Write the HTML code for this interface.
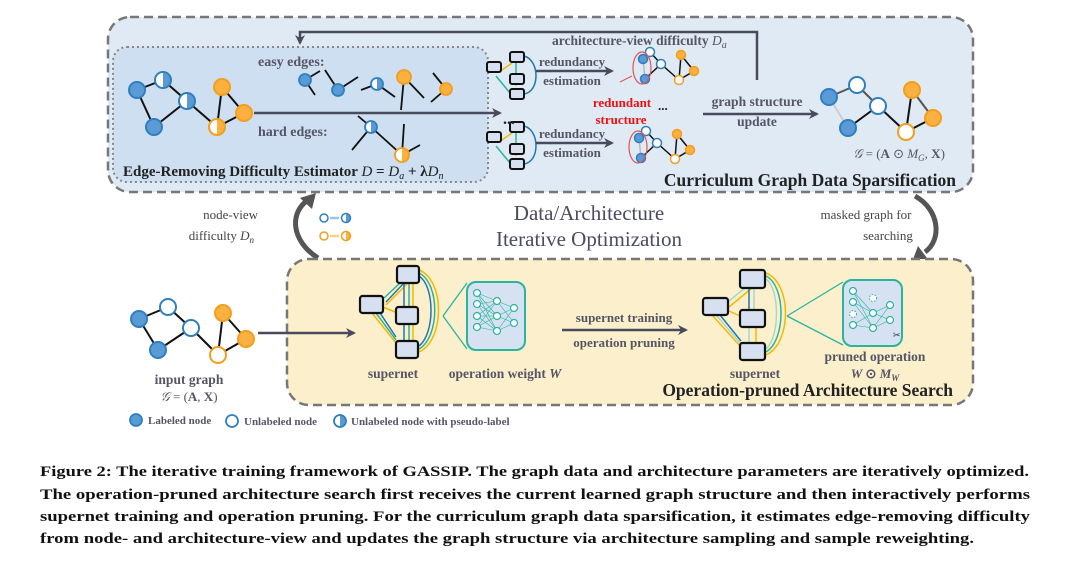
<!DOCTYPE html>
<html><head><meta charset="utf-8"><style>
html,body{margin:0;padding:0;background:#fff;}
svg{display:block;}
.s{font-family:"Liberation Serif",serif;}
</style></head><body>
<svg width="1080" height="564" viewBox="0 0 1080 564" xmlns="http://www.w3.org/2000/svg" class="s">
<defs>
<marker id="ah" markerWidth="10" markerHeight="10" refX="8" refY="5" orient="auto" markerUnits="userSpaceOnUse"><path d="M0,0 L10,5 L0,10 L3,5 Z" fill="#4a4a5e"/></marker>
<linearGradient id="pb" x1="0" x2="1"><stop offset="0.5" stop-color="#fff"/><stop offset="0.5" stop-color="#5b9bd5"/></linearGradient>
<linearGradient id="po" x1="0" x2="1"><stop offset="0.5" stop-color="#fff"/><stop offset="0.5" stop-color="#fbb040"/></linearGradient>
</defs>
<rect x="108" y="17" width="865" height="175" rx="22" fill="#e0eaf4" stroke="#777" stroke-width="2.5" stroke-dasharray="9,5"/>
<rect x="113" y="47" width="375" height="135" rx="14" fill="#cddff0" stroke="#888" stroke-width="2" stroke-dasharray="2,3"/>
<polyline points="757,80 757,32 300,32 300,43" fill="none" stroke="#4a4a5e" stroke-width="2.5" marker-end="url(#ah)"/>
<g stroke="#111" stroke-width="2">
<line x1="137" y1="90" x2="163" y2="80"/><line x1="137" y1="90" x2="154" y2="127"/><line x1="163" y1="80" x2="187" y2="101"/><line x1="154" y1="127" x2="187" y2="101"/><line x1="187" y1="101" x2="217" y2="127"/><line x1="217" y1="127" x2="222" y2="87"/><line x1="222" y1="87" x2="244" y2="113"/><line x1="217" y1="127" x2="244" y2="113"/>
</g>
<g stroke-width="2">
<circle cx="137" cy="90" r="8" fill="#5b9bd5" stroke="#2f7fc0"/><circle cx="163" cy="80" r="8" fill="url(#pb)" stroke="#2f7fc0"/><circle cx="187" cy="101" r="8" fill="url(#pb)" stroke="#2f7fc0"/><circle cx="154" cy="127" r="8" fill="#5b9bd5" stroke="#2f7fc0"/><circle cx="222" cy="87" r="8" fill="#fbb040" stroke="#f29e1e"/><circle cx="244" cy="113" r="8" fill="#fbb040" stroke="#f29e1e"/><circle cx="217" cy="127" r="8" fill="url(#po)" stroke="#f29e1e"/>
</g>
<line x1="254" y1="113" x2="500" y2="113" stroke="#4a4a5e" stroke-width="2.5" marker-end="url(#ah)"/>
<text x="258" y="66" font-size="14" font-weight="bold" fill="#555566">easy edges:</text>
<text x="258" y="136" font-size="14" font-weight="bold" fill="#555566">hard edges:</text>
<g stroke="#111" stroke-width="1.8">
<line x1="305" y1="80" x2="320" y2="71"/><line x1="305" y1="80" x2="315" y2="95"/>
<line x1="338" y1="90" x2="325" y2="70"/><line x1="338" y1="90" x2="358" y2="77"/>
<line x1="377" y1="84" x2="361" y2="90"/><line x1="377" y1="84" x2="395" y2="97"/>
<line x1="404" y1="77" x2="401" y2="110"/><line x1="404" y1="77" x2="424" y2="98"/>
<line x1="446" y1="89" x2="433" y2="73"/><line x1="446" y1="89" x2="431" y2="102"/>
<line x1="371" y1="127" x2="358" y2="116"/><line x1="371" y1="127" x2="352" y2="150"/><line x1="371" y1="127" x2="402" y2="155"/>
<line x1="402" y1="155" x2="404" y2="124"/><line x1="402" y1="155" x2="420" y2="145"/>
</g>
<g stroke-width="1.8">
<circle cx="305" cy="80" r="6" fill="#5b9bd5" stroke="#2f7fc0"/><circle cx="338" cy="90" r="6" fill="#5b9bd5" stroke="#2f7fc0"/><circle cx="377" cy="84" r="6" fill="url(#pb)" stroke="#2f7fc0"/><circle cx="404" cy="77" r="7" fill="#fbb040" stroke="#f29e1e"/><circle cx="446" cy="89" r="6" fill="#fbb040" stroke="#f29e1e"/>
<circle cx="371" cy="127" r="6" fill="url(#pb)" stroke="#2f7fc0"/><circle cx="402" cy="155" r="7" fill="url(#po)" stroke="#f29e1e"/>
</g>
<text x="123" y="176" font-size="15" font-weight="bold" fill="#222">Edge-Removing Difficulty Estimator <tspan font-style="italic" font-weight="normal">D</tspan> = <tspan font-style="italic" font-weight="normal">D<tspan font-size="10" dy="3">a</tspan></tspan><tspan dy="-3"> + λ</tspan><tspan font-style="italic" font-weight="normal">D<tspan font-size="10" dy="3">n</tspan></tspan></text>
<g id="sn1">
<g stroke="#1f77b4" stroke-width="1.5" fill="none"><path d="M524,56 C540,60 540,92 524,94"/></g>
<g stroke="#f5b800" stroke-width="1.5"><line x1="512" y1="63" x2="502" y2="70"/><line x1="516" y1="80" x2="516" y2="86"/></g>
<g stroke="#2ab3a0" stroke-width="1.5"><line x1="496" y1="76" x2="510" y2="93"/><line x1="516" y1="63" x2="516" y2="74"/></g>
<g fill="#d7e0f0" stroke="#111" stroke-width="2">
<rect x="510" y="52" width="14" height="10" rx="2"/><rect x="487" y="62" width="14" height="10" rx="2"/><rect x="510" y="74" width="14" height="10" rx="2"/><rect x="510" y="89" width="14" height="10" rx="2"/>
</g></g>
<use href="#sn1" transform="translate(0,70)"/>
<text x="503" y="124" font-size="16" font-weight="bold" fill="#222">...</text>
<text x="572" y="66" font-size="13" font-weight="bold" fill="#555566" text-anchor="middle">redundancy</text>
<line x1="536" y1="71" x2="612" y2="71" stroke="#4a4a5e" stroke-width="2.5" marker-end="url(#ah)"/>
<text x="572" y="85" font-size="13" font-weight="bold" fill="#555566" text-anchor="middle">estimation</text>
<text x="572" y="138" font-size="13" font-weight="bold" fill="#555566" text-anchor="middle">redundancy</text>
<line x1="536" y1="143" x2="612" y2="143" stroke="#4a4a5e" stroke-width="2.5" marker-end="url(#ah)"/>
<text x="572" y="157" font-size="13" font-weight="bold" fill="#555566" text-anchor="middle">estimation</text>
<text x="552" y="45" font-size="13.5" font-weight="bold" fill="#555566">architecture-view difficulty <tspan font-style="italic" font-weight="normal">D<tspan font-size="10" dy="3">a</tspan></tspan></text>
<text x="622" y="107" font-size="13" font-weight="bold" fill="#ee1111" text-anchor="middle">redundant</text>
<text x="621" y="124" font-size="13" font-weight="bold" fill="#ee1111" text-anchor="middle">structure</text>
<text x="658" y="110" font-size="13" font-weight="bold" fill="#222">...</text>
<g id="g1">
<g stroke="#111" stroke-width="1.5"><line x1="643" y1="59" x2="650" y2="52"/><line x1="650" y1="52" x2="661" y2="64"/><line x1="661" y1="64" x2="645" y2="79"/><line x1="661" y1="64" x2="679" y2="80"/><line x1="679" y1="80" x2="681" y2="55"/><line x1="681" y1="55" x2="694" y2="71"/><line x1="679" y1="80" x2="694" y2="71"/></g>
<line x1="643" y1="59" x2="645" y2="79" stroke="#bbb" stroke-width="1.5"/>
<g stroke-width="1.5"><circle cx="643" cy="59" r="4.5" fill="#5b9bd5" stroke="#2f7fc0"/><circle cx="650" cy="52" r="4.5" fill="#fff" stroke="#2f7fc0"/><circle cx="661" cy="64" r="4.5" fill="#fff" stroke="#2f7fc0"/><circle cx="645" cy="79" r="4.5" fill="#5b9bd5" stroke="#2f7fc0"/><circle cx="681" cy="55" r="4.5" fill="#fbb040" stroke="#f29e1e"/><circle cx="694" cy="71" r="4.5" fill="#fbb040" stroke="#f29e1e"/><circle cx="679" cy="80" r="4.5" fill="#fff" stroke="#f29e1e"/></g>
<ellipse cx="642" cy="68" rx="9" ry="16" fill="none" stroke="#e05555" stroke-width="1.2"/>
</g>
<use href="#g1" transform="translate(-4,79)"/>
<path d="M620,82 C624,80 628,78 632,76" stroke="#e05555" stroke-width="1" fill="none"/>
<text x="757" y="106" font-size="13.5" font-weight="bold" fill="#555566" text-anchor="middle">graph structure</text>
<line x1="703" y1="114" x2="817" y2="114" stroke="#4a4a5e" stroke-width="2.5" marker-end="url(#ah)"/>
<text x="757" y="126" font-size="13.5" font-weight="bold" fill="#555566" text-anchor="middle">update</text>
<g stroke-width="2">
<line x1="829" y1="97" x2="857" y2="85" stroke="#555"/><line x1="829" y1="97" x2="848" y2="128" stroke="#ccc"/><line x1="857" y1="85" x2="878" y2="106" stroke="#555"/><line x1="848" y1="128" x2="878" y2="106" stroke="#111"/><line x1="878" y1="106" x2="906" y2="132" stroke="#111"/><line x1="906" y1="132" x2="912" y2="90" stroke="#111"/><line x1="912" y1="90" x2="933" y2="118" stroke="#555"/><line x1="906" y1="132" x2="933" y2="118" stroke="#111"/>
<circle cx="829" cy="97" r="8" fill="#5b9bd5" stroke="#2f7fc0"/><circle cx="857" cy="85" r="8" fill="#fff" stroke="#2f7fc0"/><circle cx="878" cy="106" r="8" fill="#fff" stroke="#2f7fc0"/><circle cx="848" cy="128" r="8" fill="#5b9bd5" stroke="#2f7fc0"/><circle cx="912" cy="90" r="8" fill="#fbb040" stroke="#f29e1e"/><circle cx="933" cy="118" r="8" fill="#fbb040" stroke="#f29e1e"/><circle cx="906" cy="132" r="8" fill="#fff" stroke="#f29e1e"/>
</g>
<text x="899" y="158" font-size="13" fill="#555566" text-anchor="middle"><tspan font-style="italic">𝒢</tspan> = (<tspan font-weight="bold">A</tspan> ⊙ <tspan font-style="italic">M<tspan font-size="9" dy="3">G</tspan></tspan><tspan dy="-3">, </tspan><tspan font-weight="bold">X</tspan>)</text>
<text x="956" y="186" font-size="17.5" font-weight="bold" fill="#222" text-anchor="end">Curriculum Graph Data Sparsification</text>
<text x="589" y="220" font-size="21" fill="#4a4a60" text-anchor="middle">Data/Architecture</text>
<text x="589" y="246" font-size="21" fill="#4a4a60" text-anchor="middle">Iterative Optimization</text>
<text x="258" y="219" font-size="13" fill="#444" text-anchor="end">node-view</text>
<text x="254" y="240" font-size="13" fill="#444" text-anchor="end">difficulty <tspan font-style="italic">D<tspan font-size="9" dy="3">n</tspan></tspan></text>
<path d="M318,258 C290,240 290,212 308,200" fill="none" stroke="#555" stroke-width="5"/>
<path d="M300,198 L316,193 L312,209 Z" fill="#555"/>
<g stroke-width="1.5"><circle cx="324" cy="218" r="4" fill="#fff" stroke="#2f7fc0"/><circle cx="346" cy="218" r="4.5" fill="url(#pb)" stroke="#2f7fc0"/><line x1="330" y1="218" x2="339" y2="218" stroke="#9cc4e8" stroke-width="2.5"/>
<circle cx="324" cy="236" r="4" fill="#fff" stroke="#f29e1e"/><circle cx="346" cy="236" r="4.5" fill="url(#po)" stroke="#f29e1e"/><line x1="330" y1="236" x2="339" y2="236" stroke="#fbd08a" stroke-width="2.5"/></g>
<text x="866" y="219" font-size="13" fill="#444" text-anchor="middle">masked graph for</text>
<text x="888" y="240" font-size="13" fill="#444" text-anchor="middle">searching</text>
<path d="M915,196 C940,210 942,240 925,252" fill="none" stroke="#555" stroke-width="5"/>
<path d="M918,246 L930,262 L912,262 Z" fill="#555"/>
<rect x="287" y="259" width="686" height="146" rx="22" fill="#fcf0cc" stroke="#777" stroke-width="2.5" stroke-dasharray="9,5"/>
<g stroke-width="2">
<g stroke="#111"><line x1="139" y1="319" x2="168" y2="307"/><line x1="139" y1="319" x2="158" y2="350"/><line x1="168" y1="307" x2="191" y2="328"/><line x1="158" y1="350" x2="191" y2="328"/><line x1="191" y1="328" x2="218" y2="355"/><line x1="218" y1="355" x2="223" y2="313"/><line x1="223" y1="313" x2="246" y2="339"/><line x1="218" y1="355" x2="246" y2="339"/></g>
<circle cx="139" cy="319" r="8" fill="#5b9bd5" stroke="#2f7fc0"/><circle cx="168" cy="307" r="8" fill="#fff" stroke="#2f7fc0"/><circle cx="191" cy="328" r="8" fill="#fff" stroke="#2f7fc0"/><circle cx="158" cy="350" r="8" fill="#5b9bd5" stroke="#2f7fc0"/><circle cx="223" cy="313" r="8" fill="#fbb040" stroke="#f29e1e"/><circle cx="246" cy="339" r="8" fill="#fbb040" stroke="#f29e1e"/><circle cx="218" cy="355" r="8" fill="#fff" stroke="#f29e1e"/>
</g>
<text x="189" y="384" font-size="13.5" font-weight="bold" fill="#555566" text-anchor="middle">input graph</text>
<text x="189" y="401" font-size="13" fill="#555566" text-anchor="middle"><tspan font-style="italic">𝒢</tspan> = (<tspan font-weight="bold">A</tspan>, <tspan font-weight="bold">X</tspan>)</text>
<line x1="258" y1="333" x2="354" y2="333" stroke="#4a4a5e" stroke-width="2.5" marker-end="url(#ah)"/>
<g stroke-width="1.8"><circle cx="136" cy="420" r="6" fill="#5b9bd5" stroke="#2f7fc0"/><circle cx="232" cy="421" r="6" fill="#fff" stroke="#2f7fc0"/><circle cx="340" cy="421" r="6" fill="url(#pb)" stroke="#2f7fc0"/></g>
<text x="148" y="424" font-size="11" font-weight="bold" fill="#555566">Labeled node</text>
<text x="244" y="425" font-size="11" font-weight="bold" fill="#555566">Unlabeled node</text>
<text x="351" y="425" font-size="11" font-weight="bold" fill="#555566">Unlabeled node with pseudo-label</text>
<g fill="none" stroke-width="1.5">
<path d="M419,270 C445,280 445,340 419,352" stroke="#f5b800"/><path d="M419,273 C440,283 440,337 419,349" stroke="#2ab3a0"/><path d="M419,276 C435,286 435,334 419,346" stroke="#1f77b4"/>
<path d="M400,283 L384,298" stroke="#2ab3a0"/><path d="M404,283 L386,302" stroke="#1f77b4"/><path d="M408,283 L386,305" stroke="#f5b800"/>
<path d="M404,283 L404,307" stroke="#1f77b4"/><path d="M409,283 L409,307" stroke="#2ab3a0"/><path d="M413,283 L413,307" stroke="#f5b800"/>
<path d="M404,323 L404,340" stroke="#1f77b4"/><path d="M409,323 L409,340" stroke="#2ab3a0"/><path d="M413,323 L413,340" stroke="#f5b800"/>
<path d="M372,313 L396,343" stroke="#f5b800"/><path d="M376,313 L396,340" stroke="#2ab3a0"/><path d="M380,313 L396,337" stroke="#1f77b4"/>
<path d="M383,307 L395,312" stroke="#f5b800"/>
</g>
<g fill="#d7e0f0" stroke="#111" stroke-width="2.2">
<rect x="397" y="266" width="22" height="17" rx="2.5"/><rect x="360" y="296" width="23" height="17" rx="2.5"/><rect x="396" y="307" width="22" height="17" rx="2.5"/><rect x="396" y="341" width="22" height="17" rx="2.5"/>
</g>
<line x1="443" y1="316" x2="467" y2="283" stroke="#2ab3a0" stroke-width="1.3"/><line x1="443" y1="316" x2="467" y2="349" stroke="#2ab3a0" stroke-width="1.3"/>
<rect x="467" y="282" width="58" height="68" rx="9" fill="#d6e2f2" stroke="#2ab3a0" stroke-width="2"/>
<g stroke="#2ab3a0" stroke-width="0.6">
<path d="M477,293 L497,301 M477,293 L497,316 M477,293 L497,331 M477,304 L497,301 M477,304 L497,316 M477,304 L497,331 M477,316 L497,301 M477,316 L497,316 M477,316 L497,331 M477,327 L497,301 M477,327 L497,316 M477,327 L497,331 M497,301 L514,308 M497,316 L514,308 M497,331 L514,308 M497,301 L514,323 M497,316 L514,323 M497,331 L514,323"/>
</g>
<g fill="#fff" stroke="#2ab3a0" stroke-width="1.2"><circle cx="477" cy="293" r="3.5"/><circle cx="477" cy="304" r="3.5"/><circle cx="477" cy="316" r="3.5"/><circle cx="477" cy="327" r="3.5"/><circle cx="497" cy="301" r="3.5"/><circle cx="497" cy="316" r="3.5"/><circle cx="497" cy="331" r="3.5"/><circle cx="514" cy="308" r="3.5"/><circle cx="514" cy="323" r="3.5"/></g>
<text x="393" y="378" font-size="13.5" font-weight="bold" fill="#555566" text-anchor="middle">supernet</text>
<text x="505" y="378" font-size="13.5" font-weight="bold" fill="#555566" text-anchor="middle">operation weight <tspan font-style="italic">W</tspan></text>
<text x="624" y="322" font-size="13" font-weight="bold" fill="#555566" text-anchor="middle">supernet training</text>
<line x1="562" y1="330" x2="686" y2="330" stroke="#4a4a5e" stroke-width="2.5" marker-end="url(#ah)"/>
<text x="624" y="347" font-size="13" font-weight="bold" fill="#555566" text-anchor="middle">operation pruning</text>
<g fill="none" stroke-width="1.5">
<path d="M766,273 C792,283 792,343 766,355" stroke="#f5b800"/><path d="M766,276 C786,286 786,340 766,352" stroke="#2ab3a0"/><path d="M766,279 C780,289 780,337 766,349" stroke="#a6d8cf"/>
<path d="M745,288 L729,301" stroke="#a6d8cf"/><path d="M752,288 L729,307" stroke="#f5b800"/>
<path d="M749,288 L749,310" stroke="#1f77b4"/><path d="M754,288 L754,310" stroke="#a6d8cf"/>
<path d="M749,327 L749,343" stroke="#a6d8cf"/><path d="M756,327 L756,343" stroke="#f5b800"/>
<path d="M712,315 L741,347" stroke="#f5b800"/><path d="M716,315 L741,344" stroke="#a6d8cf"/><path d="M720,315 L741,341" stroke="#1f77b4"/>
<path d="M729,311 L740,316" stroke="#f5b800"/>
</g>
<g fill="#d7e0f0" stroke="#111" stroke-width="2.2">
<rect x="740" y="270" width="25" height="18" rx="2.5"/><rect x="703" y="298" width="25" height="17" rx="2.5"/><rect x="740" y="310" width="25" height="17" rx="2.5"/><rect x="740" y="343" width="25" height="17" rx="2.5"/>
</g>
<line x1="787" y1="316" x2="843" y2="282" stroke="#2ab3a0" stroke-width="1.3"/><line x1="787" y1="316" x2="843" y2="345" stroke="#2ab3a0" stroke-width="1.3"/>
<rect x="843" y="280" width="59" height="66" rx="9" fill="#d6e2f2" stroke="#2ab3a0" stroke-width="2"/>
<g stroke="#2ab3a0" stroke-width="0.6">
<path d="M853,291 L873,313 M853,291 L873,328 M853,302 L873,313 M853,302 L873,328 M853,325 L873,313 M853,325 L873,328 M873,313 L890,305 M873,328 L890,305 M873,313 L890,320 M873,328 L890,320"/>
</g>
<g fill="#fff" stroke="#2ab3a0" stroke-width="1.2"><circle cx="853" cy="291" r="3.5"/><circle cx="853" cy="302" r="3.5"/><circle cx="853" cy="325" r="3.5"/><circle cx="873" cy="313" r="3.5"/><circle cx="873" cy="328" r="3.5"/><circle cx="890" cy="305" r="3.5"/><circle cx="890" cy="320" r="3.5"/></g>
<g fill="#fff" stroke="#2ab3a0" stroke-width="1" stroke-dasharray="1.5,1.5"><circle cx="853" cy="314" r="3.5"/><circle cx="873" cy="298" r="3.5"/></g>
<text x="893" y="338" font-size="9" fill="#333">✂</text>
<text x="755" y="378" font-size="13.5" font-weight="bold" fill="#555566" text-anchor="middle">supernet</text>
<text x="875" y="361" font-size="13.5" font-weight="bold" fill="#555566" text-anchor="middle">pruned operation</text>
<text x="875" y="378" font-size="13" font-weight="bold" fill="#555566" text-anchor="middle"><tspan font-style="italic">W</tspan> ⊙ <tspan font-style="italic">M<tspan font-size="9" dy="3">W</tspan></tspan></text>
<text x="953" y="396" font-size="17.5" font-weight="bold" fill="#222" text-anchor="end">Operation-pruned Architecture Search</text>
<g font-size="15" font-weight="bold" fill="#111">
<text x="40" y="476" textLength="989" lengthAdjust="spacingAndGlyphs">Figure 2: The iterative training framework of GASSIP. The graph data and architecture parameters are iteratively optimized.</text>
<text x="40" y="499" textLength="990" lengthAdjust="spacingAndGlyphs">The operation-pruned architecture search first receives the current learned graph structure and then interactively performs</text>
<text x="40" y="521" textLength="990" lengthAdjust="spacingAndGlyphs">supernet training and operation pruning. For the curriculum graph data sparsification, it estimates edge-removing difficulty</text>
<text x="40" y="543" textLength="934" lengthAdjust="spacingAndGlyphs">from node- and architecture-view and updates the graph structure via architecture sampling and sample reweighting.</text>
</g>
</svg>
</body></html>
